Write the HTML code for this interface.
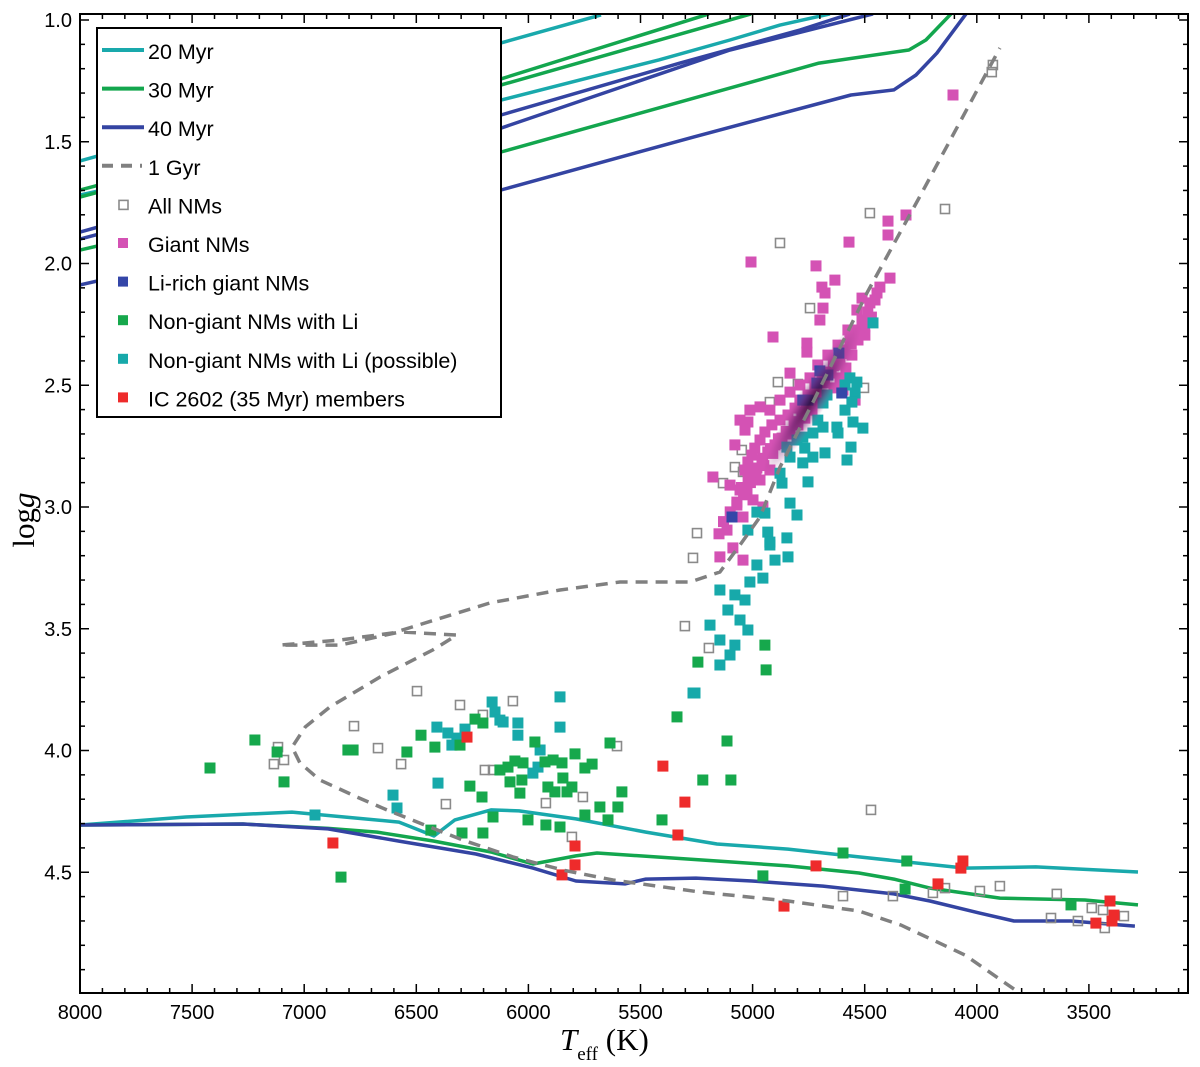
<!DOCTYPE html>
<html><head><meta charset="utf-8">
<style>
html,body{margin:0;padding:0;background:#fff;}
svg{display:block;}
text{font-family:"Liberation Sans",sans-serif;}
</style></head>
<body>
<svg id="chart" width="1200" height="1067" viewBox="0 0 1200 1067" xmlns="http://www.w3.org/2000/svg">
<defs>
<radialGradient id="core" cx="50%" cy="50%" r="50%">
<stop offset="0%" stop-color="#2e062e" stop-opacity="1"/>
<stop offset="40%" stop-color="#6a1f6a" stop-opacity="0.85"/>
<stop offset="100%" stop-color="#b04898" stop-opacity="0"/>
</radialGradient>
<clipPath id="plotclip"><rect x="80" y="14" width="1108" height="979"/></clipPath>
</defs>
<g id="curves" clip-path="url(#plotclip)"></g>
<g id="points" clip-path="url(#plotclip)"></g>
<g id="density" clip-path="url(#plotclip)"></g>
<g id="dashed" clip-path="url(#plotclip)"></g>
<g id="axes"></g>
<g id="legend"></g>
<text transform="translate(34,520) rotate(-90)" text-anchor="middle" font-size="31" style="font-family:'Liberation Serif',serif">log<tspan font-style="italic">g</tspan></text>
<text x="560" y="1050" font-size="31" style="font-family:'Liberation Serif',serif"><tspan font-style="italic">T</tspan><tspan font-size="19" dy="10">eff</tspan><tspan dy="-10"> (K)</tspan></text>
</svg>
<script>
// ---- data ----
const xTicks=[8000,7500,7000,6500,6000,5500,5000,4500,4000,3500];
const yTicks=[1.0,1.5,2.0,2.5,3.0,3.5,4.0,4.5];
const iso20T=[[8000,6122,5676],[8000,6122,5418,5101,4878,4655],[8000,7527,7055,6577,6421,6328,6167,6042,5788,5476,5159,4842,4526,4053,3737,3281]];
const iso20G=[[1.579,1.094,0.979],[1.719,1.329,1.164,1.082,1.021,0.975],[4.306,4.273,4.253,4.294,4.351,4.285,4.244,4.248,4.281,4.335,4.384,4.405,4.437,4.483,4.478,4.499]];
const iso30T=[[8000,6122,5195],[8000,6122,5007],[8000,6122,4704,4303,4227,4115],[8000,7273,6894,6675,6421,6167,5980,5788,5694,5159,4842,4526,4370,4209,3897,3518,3281]];
const iso30G=[[1.698,1.242,0.975],[1.727,1.267,0.975],[1.945,1.542,1.177,1.123,1.082,0.975],[4.306,4.302,4.32,4.335,4.372,4.417,4.466,4.433,4.421,4.454,4.474,4.503,4.528,4.565,4.606,4.614,4.634]];
const iso40T=[[8000,6122,5324,4789,4566],[8000,6122,5101,4463],[8000,6122,5262,4561,4370,4271,4178,4048],[8000,7273,6894,6577,6234,5980,5788,5569,5476,5253,5003,4686,4370,4209,3990,3834,3580,3295]];
const iso40G=[[1.871,1.39,1.177,1.041,0.975],[1.9,1.444,1.123,0.975],[2.088,1.698,1.48,1.308,1.287,1.226,1.136,0.975],[4.306,4.302,4.322,4.372,4.425,4.483,4.536,4.548,4.528,4.524,4.536,4.557,4.589,4.618,4.667,4.7,4.7,4.721]];
const iso1GyrT=[3834,4053,4338,4526,4842,5235,5623,5846,6069,6292,6484,6631,6765,6930,7019,7054,6995,6885,6662,6426,6319,6573,6840,7108,6840,6604,6171,5859,5592,5279,5146,5056,4967,4878,4726,4490,4258,3897];
const iso1GyrG=[4.98,4.84,4.717,4.659,4.618,4.581,4.532,4.491,4.437,4.368,4.298,4.244,4.191,4.121,4.051,3.986,3.903,3.821,3.698,3.587,3.526,3.513,3.567,3.567,3.546,3.517,3.394,3.341,3.308,3.308,3.267,3.156,3.041,2.836,2.561,2.121,1.731,1.115];
const giantT=[4396,4316,4396,4570,5007,4717,4633,4691,4677,4686,4700,4909,4387,4432,4445,4512,4477,4535,4758,4758,4833,5012,4967,5021,5177,5101,5056,5025,4998,4954,5070,5043,5114,5088,5146,5043,4106,4454,4486,4512,4543,4566,4588,4610,4633,4664,4691,4722,4753,4789,4811,4842,4878,4914,4945,4967,4990,5003,5021,5034,4530,4557,4584,4610,4637,4673,4700,4735,4767,4798,4833,4869,4900,4932,4958,4981,4923,4878,4833,4789,4744,4709,4664,4619,4575,4499,4543,4597,4967,4923,5034,5079,5056,
 4470,4500,4525,4560,4590,4620,4650,4680,4715,4745,4780,4815,4850,4885,4920,4955,4990,5020,5050,4600,4640,4680,4720,4760,4800,4840,4880,4910,4950,4985,5010,5040,5070,5100,5130,5150];
const giantG=[1.826,1.801,1.883,1.912,1.994,2.01,2.068,2.097,2.121,2.183,2.232,2.302,2.06,2.097,2.121,2.142,2.162,2.191,2.327,2.364,2.45,2.602,2.589,2.651,2.877,2.91,2.93,2.943,2.971,3.0,2.992,3.041,3.095,3.168,3.205,3.218,1.308,2.15,2.199,2.232,2.273,2.314,2.355,2.388,2.417,2.446,2.479,2.511,2.54,2.561,2.594,2.622,2.643,2.663,2.692,2.725,2.758,2.787,2.815,2.848,2.314,2.376,2.429,2.47,2.511,2.54,2.573,2.602,2.635,2.663,2.692,2.717,2.745,2.774,2.807,2.84,2.602,2.561,2.528,2.499,2.47,2.417,2.376,2.335,2.273,2.294,2.561,2.52,2.889,2.848,2.684,2.745,2.643,
 2.22,2.26,2.29,2.33,2.37,2.41,2.45,2.49,2.53,2.57,2.61,2.65,2.69,2.72,2.76,2.8,2.84,2.88,2.92,2.36,2.42,2.48,2.54,2.6,2.65,2.7,2.74,2.78,2.83,2.87,2.9,2.95,2.98,3.02,3.06,3.11];
const liRichT=[4615,4700,4664,4713,4602,4776,4753,5092];
const liRichG=[2.368,2.441,2.458,2.491,2.532,2.561,2.561,3.041];
const possT=[4463,4566,4535,4588,4543,4668,4686,4557,4588,4709,4686,4624,4552,4508,4731,4776,4802,4619,4847,4833,4767,4731,4677,4776,4561,4579,4878,4753,4869,4981,4945,4833,4802,5021,4932,4923,4847,4842,4954,5012,5079,5034,5146,5110,5056,5190,5146,5079,5021,5101,5146,5266,4923,4900,4981,6162,6149,6127,6113,6047,6047,6408,6359,6319,6283,6341,5859,5859,5948,5957,5980,6403,6604,6586,6952,5257];
const possG=[2.244,2.47,2.487,2.499,2.532,2.54,2.573,2.569,2.602,2.643,2.672,2.672,2.651,2.676,2.696,2.713,2.725,2.696,2.754,2.795,2.758,2.795,2.778,2.819,2.754,2.807,2.861,2.897,2.902,3.021,3.025,2.984,3.033,3.095,3.103,3.144,3.127,3.205,3.292,3.308,3.361,3.382,3.341,3.423,3.464,3.485,3.546,3.567,3.505,3.608,3.649,3.764,3.156,3.218,3.238,3.801,3.842,3.875,3.883,3.887,3.937,3.904,3.928,3.949,3.912,3.978,3.78,3.904,3.998,4.068,4.093,4.134,4.183,4.236,4.265,3.764];
const liT=[7220,7420,7121,7090,6805,6782,6542,6479,6417,6305,6238,6203,5971,5792,5748,5716,5636,6127,6091,6060,6024,5926,5890,5850,5846,6082,6029,6038,5913,5882,5828,5806,6261,6207,5583,5681,5601,5748,6158,6002,5922,5859,5645,6296,6203,6435,6836,5337,5404,5244,5097,5222,4954,4597,4312,4320,3580,4945,4940,5114];
const liG=[3.957,4.072,4.006,4.129,3.998,3.998,4.006,3.937,3.986,3.978,3.871,3.887,3.965,4.014,4.072,4.056,3.969,4.08,4.068,4.043,4.051,4.047,4.039,4.051,4.113,4.129,4.121,4.175,4.15,4.17,4.17,4.15,4.146,4.191,4.17,4.232,4.232,4.265,4.273,4.285,4.306,4.314,4.285,4.339,4.339,4.327,4.52,3.862,4.285,3.637,4.121,4.121,4.515,4.421,4.454,4.569,4.634,3.567,3.669,3.961];
const icT=[6274,6872,5792,5792,5850,5400,5302,5333,4860,4717,4173,4062,4071,3469,3406,3388,3397];
const icG=[3.945,4.38,4.392,4.47,4.511,4.064,4.212,4.347,4.639,4.474,4.548,4.454,4.483,4.709,4.618,4.676,4.7];
const allT=[6497,6305,6069,6203,6778,7117,7090,7135,6671,6568,6194,6158,5605,5757,5922,6368,5806,5302,4472,4597,4374,4196,4142,3986,3897,3643,3669,3549,3487,3437,3344,3429,4477,4878,4744,4887,4798,4923,4503,5048,5079,5043,5132,5248,5266,3928,3933,4142,5195];
const allG=[3.756,3.813,3.797,3.854,3.9,3.986,4.039,4.056,3.99,4.056,4.08,4.08,3.982,4.191,4.216,4.22,4.355,3.489,4.244,4.598,4.598,4.585,4.565,4.577,4.557,4.589,4.688,4.7,4.647,4.655,4.68,4.729,1.793,1.916,2.183,2.487,2.495,2.569,2.511,2.766,2.836,2.856,2.902,3.107,3.209,1.185,1.214,1.776,3.579];

const X0=80, XR=0.2242, Y0=20, YR=243.5;
function xs(T){return X0+(8000-T)*XR;}
function ys(g){return Y0+(g-1)*YR;}
const NS='http://www.w3.org/2000/svg';
function mk(tag,attrs,parent){const e=document.createElementNS(NS,tag);for(const k in attrs)e.setAttribute(k,attrs[k]);parent.appendChild(e);return e;}

const curves=document.getElementById('curves');
function drawIso(TT,GG,color,name){
  TT.forEach((arr,i)=>{
    const d=arr.map((t,j)=>(j?'L':'M')+xs(t).toFixed(1)+','+ys(GG[i][j]).toFixed(1)).join(' ');
    const p=mk('path',{d:d,fill:'none',stroke:color,'stroke-width':3.5,'stroke-linejoin':'round'},curves);
    
    
  });
}
drawIso(iso20T,iso20G,'#19a9ac','isochrone-20myr');
drawIso(iso30T,iso30G,'#13a64e','isochrone-30myr');
drawIso(iso40T,iso40G,'#3444a2','isochrone-40myr');

const pts=document.getElementById('points');
function drawSq(TT,GG,fill,name,open){
  TT.forEach((t,i)=>{
    const s=open?9:11;
    const r=mk('rect',{x:(xs(t)-s/2).toFixed(1),y:(ys(GG[i])-s/2).toFixed(1),width:s,height:s,
      fill:open?'none':fill,stroke:open?'#8a8a8a':'none','stroke-width':open?1.6:0},pts);
    
    
  });
}
drawSq(allT,allG,'none','all-nm-point',true);
drawSq(giantT,giantG,'#d452b4','giant-nm-point',false);
drawSq(possT,possG,'#17a9aa','possible-li-point',false);
drawSq(liT,liG,'#16a84c','li-nongiant-point',false);
drawSq(icT,icG,'#ee2b2b','ic2602-member-point',false);

const dens=document.getElementById('density');
const cx=xs(4735), cy=ys(2.56);
const ce=mk('ellipse',{cx:cx,cy:cy,rx:90,ry:15,fill:'url(#core)',opacity:0.8,transform:'rotate(-58 '+cx+' '+cy+')'},dens);


drawSq(liRichT,liRichG,'#3446a8','li-rich-giant-point',false);

const dsh=document.getElementById('dashed');
const dd=iso1GyrT.map((t,j)=>(j?'L':'M')+xs(t).toFixed(1)+','+ys(iso1GyrG[j]).toFixed(1)).join(' ');
const dp=mk('path',{d:dd,fill:'none',stroke:'#808080','stroke-width':3.5,'stroke-dasharray':'12 8'},dsh);



const ax=document.getElementById('axes');
const L=80,R=1188,T0=14,B=993;
const fr=mk('rect',{x:L,y:T0,width:R-L,height:B-T0,fill:'none',stroke:'#000','stroke-width':2},ax);


for(let t=8000;t>=3100;t-=100){
  const x=xs(t), major=(t%500===0), len=major?9:5;
  mk('line',{x1:x,y1:B,x2:x,y2:B-len,stroke:'#000','stroke-width':1.5},ax);
  mk('line',{x1:x,y1:T0,x2:x,y2:T0+len,stroke:'#000','stroke-width':1.5},ax);
}
for(let k=0;k<=40;k++){
  const g=1+k*0.1;
  const y=ys(g), major=(k%5===0), len=major?9:5;
  if(y<T0||y>B) continue;
  mk('line',{x1:L,y1:y,x2:L+len,y2:y,stroke:'#000','stroke-width':1.5},ax);
  mk('line',{x1:R,y1:y,x2:R-len,y2:y,stroke:'#000','stroke-width':1.5},ax);
}
xTicks.forEach(t=>{
  const e=mk('text',{x:xs(t),y:1019,'text-anchor':'middle','font-size':20},ax);
  e.textContent=t;
  
  
});
yTicks.forEach(g=>{
  const e=mk('text',{x:72,y:ys(g)+7,'text-anchor':'end','font-size':20},ax);
  e.textContent=g.toFixed(1);
  
  
});

const lg=document.getElementById('legend');
const lb=mk('rect',{x:97,y:28,width:404,height:389,fill:'#fff',stroke:'#000','stroke-width':2},lg);


const entries=[
 ['20 Myr','line','#19a9ac'],['30 Myr','line','#13a64e'],['40 Myr','line','#3444a2'],['1 Gyr','dash','#808080'],
 ['All NMs','open','#8a8a8a'],['Giant NMs','sq','#d452b4'],['Li-rich giant NMs','sq','#3446a8'],
 ['Non-giant NMs with Li','sq','#16a84c'],['Non-giant NMs with Li (possible)','sq','#17a9aa'],['IC 2602 (35 Myr) members','sq','#ee2b2b']];
entries.forEach((en,i)=>{
  const y=59+i*38.6;
  const g=mk('g',{},lg);
  
  
  if(en[1]==='line') mk('line',{x1:102,y1:y-9,x2:144,y2:y-9,stroke:en[2],'stroke-width':4},g);
  else if(en[1]==='dash') mk('line',{x1:102,y1:y-9,x2:142,y2:y-9,stroke:en[2],'stroke-width':4,'stroke-dasharray':'11 8'},g);
  else if(en[1]==='open') mk('rect',{x:119,y:y-13,width:9,height:9,fill:'none',stroke:en[2],'stroke-width':1.6},g);
  else mk('rect',{x:118,y:y-14,width:10,height:10,fill:en[2]},g);
  const t=mk('text',{x:148,y:y,'font-size':21.5},g);
  t.textContent=en[0];
});
</script>
</body></html>
